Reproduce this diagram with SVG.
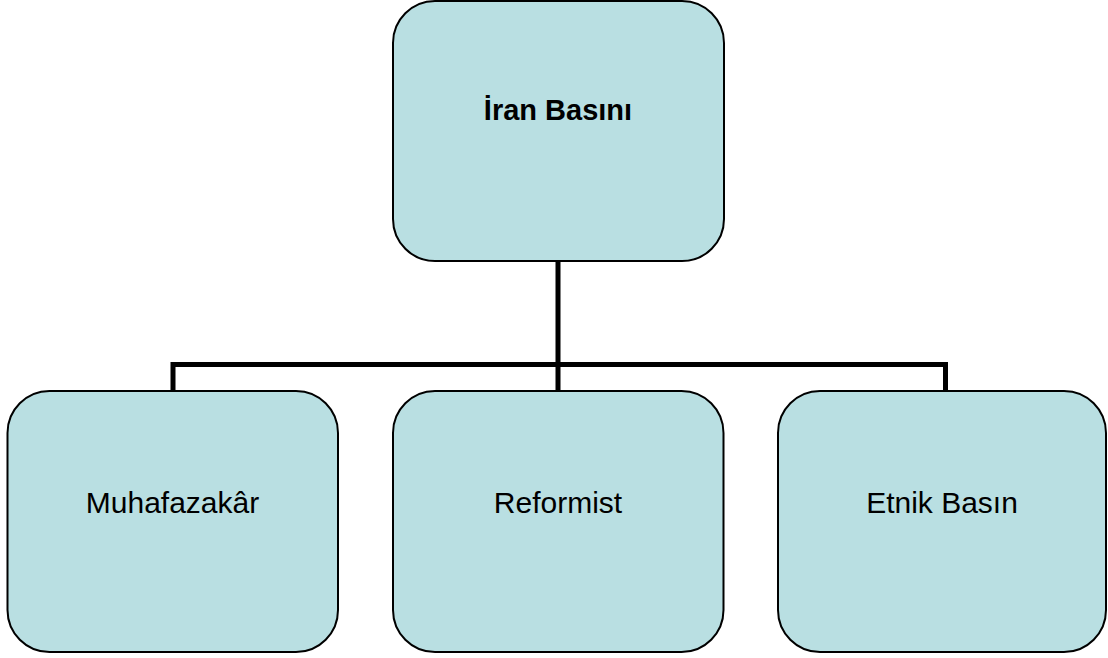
<svg xmlns="http://www.w3.org/2000/svg" width="1108" height="658" viewBox="0 0 1108 658">
<style>
.box{fill:#B9DFE2;stroke:#000;stroke-width:2}
.lbl{font-family:"Liberation Sans",Arial,sans-serif;font-size:30px;fill:#000;text-anchor:middle}
.bold{font-weight:bold;font-size:29px}
.conn{fill:none;stroke:#000;stroke-width:5}
</style>
<rect width="1108" height="658" fill="#fff"/>
<g id="connectors">
<path class="conn" d="M558 261 V364.5 M173 391 V364.5 H945.5 V391 M558 364.5 V391"/>
</g>
<g id="node-iran">
<rect class="box" x="393" y="1" width="331" height="260" rx="42"/>
<text class="lbl bold" x="558" y="120">İran Basını</text>
</g>
<g id="node-muhafazakar">
<rect class="box" x="7.5" y="391" width="330.5" height="261" rx="42"/>
<text class="lbl" x="172.5" y="513">Muhafazakâr</text>
</g>
<g id="node-reformist">
<rect class="box" x="393" y="391" width="330.5" height="261" rx="42"/>
<text class="lbl" x="558" y="513">Reformist</text>
</g>
<g id="node-etnik">
<rect class="box" x="778" y="391" width="328" height="261" rx="42"/>
<text class="lbl" x="942" y="513">Etnik Basın</text>
</g>
</svg>
